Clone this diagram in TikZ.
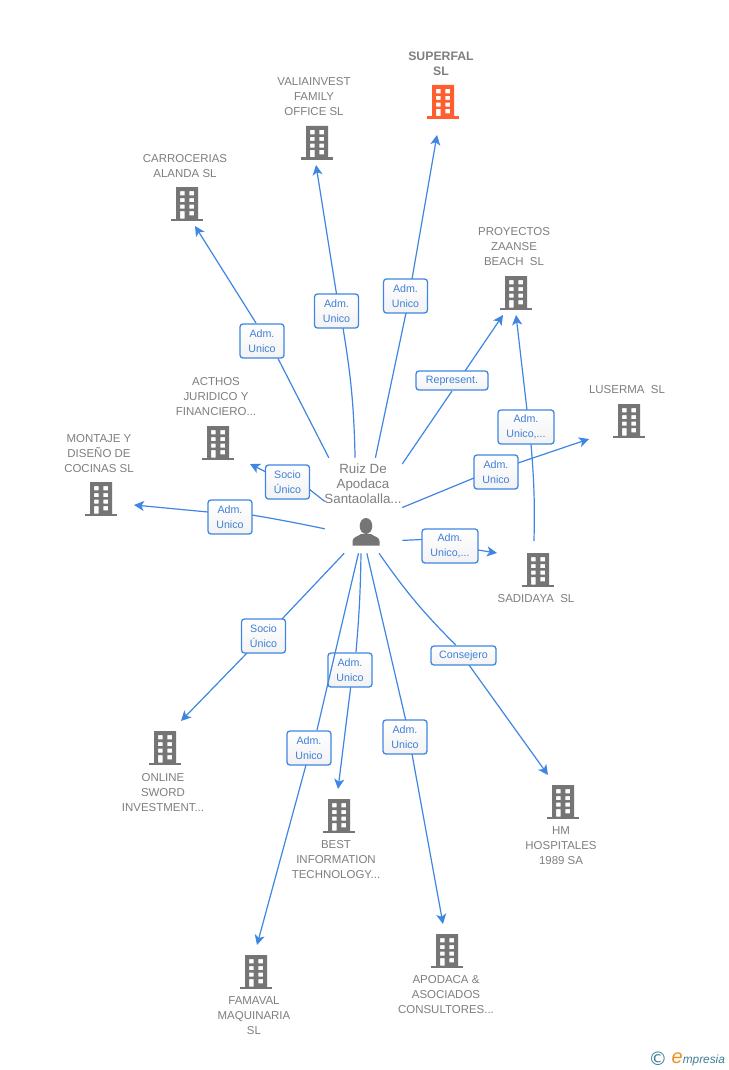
\documentclass[tikz,border=0pt]{standalone}
\usepackage{fontspec}
\setmainfont{Liberation Sans}
\newfontfamily\symbolfont{DejaVu Sans}
\usetikzlibrary{arrows.meta}
\pgfdeclarelayer{edges}
\pgfsetlayers{edges,main}
\definecolor{linkblue}{HTML}{3F86E2}
\definecolor{textblue}{HTML}{3F7FD8}
\definecolor{labelgray}{HTML}{7F7F7F}
\definecolor{iconGray}{HTML}{757575}
\definecolor{iconOrange}{HTML}{FF5F2E}
\definecolor{brandteal}{HTML}{3E7E94}
\definecolor{brandorange}{HTML}{F0901E}
\tikzset{
  x=0.75pt,y=-0.75pt,
  conn/.style={draw=linkblue,line width=0.9pt},
  arrowed/.style={conn,-{Stealth[length=7.5pt,width=7.5pt,inset=2pt]}},
  rolebox/.style={draw=linkblue,line width=0.95pt,rounded corners=2.2pt,top color=white,bottom color=black!5,
    text=textblue,align=center,inner sep=0pt,minimum height=25.5pt,minimum width=33pt,
    font=\fontsize{8}{11.25}\selectfont},
  widebox/.style={rolebox,minimum width=42pt},
  onebox/.style={rolebox,minimum height=14.25pt},
  company/.style={text=labelgray,align=center,inner sep=0pt,font=\fontsize{8.6}{11.25}\selectfont},
  icon/.style={minimum width=24pt,minimum height=25pt,inner sep=0pt},
  bldg/.pic={
    \fill[pic actions,even odd rule]
      (-11,-16) rectangle (11,16)
      (-7,-12) rectangle (-2.5,-7.7)
      (2.3,-12) rectangle (7,-7.7)
      (-7,-5) rectangle (-2.5,-1)
      (2.3,-5) rectangle (7,-1)
      (-7,1.7) rectangle (-2.5,5.7)
      (2.3,1.7) rectangle (7,5.7)
      (-7,8) rectangle (-2.5,15.7)
      (2.3,8) rectangle (7,12.3);
    \fill[pic actions] (-16,15.5) rectangle (16,18);
  },
}
\newcommand{\building}[4][iconGray]{%
  \node[icon] (#2) at (#3,#4) {};
  \path[fill=#1] (#3,#4) pic {bldg};
}
% a point given in pixels from the centre of a named node
\newcommand{\anch}[3]{([xshift=#2*0.75pt,yshift=-1*(#3)*0.75pt]#1.center)}
\begin{document}
\begin{tikzpicture}
\useasboundingbox (0,0) rectangle (728,1070);
\begin{pgfonlayer}{edges}
\fill[white] (0,0) rectangle (728,1070);
\end{pgfonlayer}

% hub
\node[minimum width=57.75pt,minimum height=71.25pt,inner sep=0pt] (hub) at (363.5,505.5) {};
\node[text=labelgray,align=center,inner sep=0pt,font=\fontsize{10}{11.25}\selectfont] (hubtext) at (363,484) {Ruiz De\\Apodaca\\Santaolalla...};
\node[minimum width=21pt,minimum height=21pt,inner sep=0pt] (person) at (366,532) {};
\fill[iconGray] (366,526) ellipse [x radius=6.3,y radius=8];
\fill[iconGray] (352.5,545.5) -- (352.5,541) .. controls (352.5,537) and (358,536.5) .. (361,534) -- (371,534) .. controls (374,536.5) and (379.5,537) .. (379.5,541) -- (379.5,545.5) -- cycle;

% companies
\building[iconOrange]{superfal}{443}{101}
\building{valia}{317}{142}
\building{carro}{187}{203}
\building{proy}{516}{292}
\building{acthos}{218}{442}
\building{luserma}{629}{420}
\building{montaje}{101}{498}
\building{sadidaya}{538}{569}
\building{online}{165}{747}
\building{best}{339}{815}
\building{hm}{563}{801}
\building{famaval}{256}{971}
\building{apodaca}{447}{950}

\node[company,font=\fontsize{9.2}{11.25}\selectfont\bfseries] (tsuperfal) at (441,64) {SUPERFAL\\SL};
\node[company] (tvalia) at (314,96.7) {VALIAINVEST\\FAMILY\\OFFICE SL};
\node[company] (tcarro) at (185,166.2) {CARROCERIAS\\ALANDA SL};
\node[company] (tproy) at (514,246.7) {PROYECTOS\\ZAANSE\\BEACH~ SL};
\node[company] (tacthos) at (216,396.7) {ACTHOS\\JURIDICO Y\\FINANCIERO...};
\node[company] (tluserma) at (627,389.7) {LUSERMA~ SL};
\node[company] (tmontaje) at (99,453.7) {MONTAJE Y\\DISEÑO DE\\COCINAS SL};
\node[company] (tsadidaya) at (536,598.7) {SADIDAYA~ SL};
\node[company] (tonline) at (163,792.7) {ONLINE\\SWORD\\INVESTMENT...};
\node[company] (tbest) at (336,859.7) {BEST\\INFORMATION\\TECHNOLOGY...};
\node[company] (thm) at (561,845.7) {HM\\HOSPITALES\\1989 SA};
\node[company] (tfamaval) at (254,1015.7) {FAMAVAL\\MAQUINARIA\\SL};
\node[company] (tapodaca) at (446,994.7) {APODACA \&\\ASOCIADOS\\CONSULTORES...};

% role boxes
\node[rolebox] (r1) at (405.5,296) {Adm.~\\Unico};
\node[rolebox] (r2) at (336.5,311) {Adm.~\\Unico};
\node[rolebox] (r3) at (262,341) {Adm.~\\Unico};
\node[rolebox] (r4) at (287.5,482) {Socio\\Único};
\node[rolebox] (r5) at (230,517) {Adm.~\\Unico};
\node[rolebox] (r6) at (263.5,636) {Socio\\Único};
\node[rolebox] (r7) at (309,748) {Adm.~\\Unico};
\node[rolebox] (r8) at (350,670) {Adm.~\\Unico};
\node[rolebox] (r9) at (405,737) {Adm.~\\Unico};
\node[onebox,minimum width=48.75pt] (r10) at (463.5,655.5) {Consejero};
\node[widebox] (r11) at (450,546) {Adm.~\\Unico,...};
\node[rolebox] (r12) at (496,472) {Adm.~\\Unico};
\node[onebox,minimum width=54pt] (r13) at (452,380.5) {Represent.};
\node[widebox] (r14) at (526,427) {Adm.~\\Unico,...};

% connectors
\begin{pgfonlayer}{edges}
\draw[conn] (hub.76.4) -- \anch{r1}{0.5}{17};
\draw[arrowed] \anch{r1}{6.5}{-17} -- \anch{superfal}{-6}{34};
\draw[conn] (hub.100.1) to[bend right=4] ([xshift=4.875pt,yshift=-12.75pt]r2.center);
\draw[arrowed] \anch{r2}{0}{-17} -- \anch{valia}{-1}{23};
\draw[conn] (hub.126.8) -- \anch{r3}{16}{17.5};
\draw[arrowed] \anch{r3}{-6}{-18} -- \anch{carro}{8}{23};
\draw[conn] (hub.174.8) -- \anch{r4}{21.5}{7};
\draw[arrowed] \anch{r4}{-21.5}{-10} -- \anch{acthos}{32}{22};
\draw[conn] (hub.211.4) to[bend right=1] ([xshift=16.5pt,yshift=1.5pt]r5.center);
\draw[arrowed] \anch{r5}{-22}{-5} -- \anch{montaje}{33}{7};
\draw[conn] (hub.248.7) -- \anch{r6}{18.5}{-17};
\draw[arrowed] \anch{r6}{-16.5}{17} -- \anch{online}{16}{-26};
\draw[arrowed] \anch{r7}{-3}{17} -- \anch{famaval}{1}{-26};
\draw[conn] (hub.267) to[bend left=2] ([xshift=4.5pt,yshift=13.5pt]r8.center);
\draw[arrowed] \anch{r8}{0.7}{17} -- \anch{best}{-1}{-26};
\draw[conn] (hub.274.2) -- \anch{r9}{0.7}{-17};
\draw[arrowed] \anch{r9}{7}{17} -- \anch{apodaca}{-4}{-26};
\draw[conn] (hub.288) to[bend right=5] ([xshift=-5.85pt,yshift=7.875pt]r10.center);
\draw[arrowed] \anch{r10}{5.5}{9.5} -- \anch{hm}{-15}{-26};
\draw[conn] (hub.318.1) -- \anch{r11}{-28}{-6.5};
\draw[arrowed] \anch{r11}{28}{4} -- \anch{sadidaya}{-41}{-16};
\draw[conn] (hub.357.8) -- \anch{r12}{-22}{6};
\draw[arrowed] \anch{r12}{22}{-9} -- \anch{luserma}{-40}{19};
\draw[conn] (hub.47.8) -- \anch{r13}{0}{10.5};
\draw[arrowed] \anch{r13}{13}{-9.5} -- \anch{proy}{-13}{23};
\draw[conn] \anch{sadidaya}{-4}{-28} to[bend right=3] ([xshift=3.75pt,yshift=-12.75pt]r14.center);
\draw[arrowed] \anch{r14}{1}{-17} -- \anch{proy}{0}{23};
\end{pgfonlayer}
% this one runs over the box r8, as in the reference
\draw[conn] (hub.264.6) -- \anch{r7}{8}{-18};

% footer brand
\node[inner sep=0pt,text=brandteal,font=\symbolfont\fontsize{14}{14}\selectfont] (copyr) at (658,1059) {©};
\node[inner sep=0pt,anchor=base west,text=brandteal,font=\itshape\fontsize{8.9}{10}\selectfont] (brand) at (682.5,1063) {mpresia};
\node[inner sep=0pt,anchor=base east,text=brandorange,font=\itshape\fontsize{15}{15}\selectfont] (brande) at (683,1063) {e};
\end{tikzpicture}
\end{document}
